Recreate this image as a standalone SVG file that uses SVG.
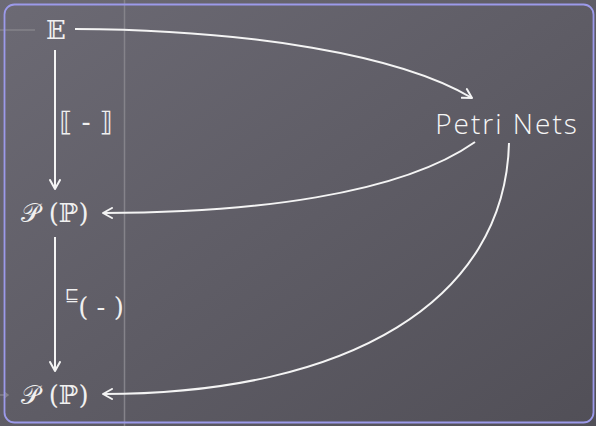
<svg xmlns="http://www.w3.org/2000/svg" width="596" height="426" viewBox="0 0 596 426">
<defs>
<linearGradient id="bg" x1="0" y1="0" x2="1" y2="1">
<stop offset="0" stop-color="#6c6a74"/>
<stop offset="1" stop-color="#514f57"/>
</linearGradient>
<marker id="ah" viewBox="0 0 12 12" refX="10" refY="6" markerWidth="12" markerHeight="12" markerUnits="userSpaceOnUse" orient="auto">
<path d="M1 1 L10 6 L1 11" fill="none" stroke="#f4f4f4" stroke-width="2" stroke-linecap="round" stroke-linejoin="round"/>
</marker>
<style>
.math{font-family:"DejaVu Serif","DejaVu Sans","Liberation Serif",serif;fill:#f0f0f0;}
.hand{font-family:"Open Sans","Noto Sans",sans-serif;font-weight:300;fill:#f6f6f6;}
.conn{fill:none;stroke:#f4f4f4;stroke-width:2;marker-end:url(#ah);}
.guide{stroke:#85838a;stroke-width:1.5;}
</style>
</defs>
<rect width="596" height="426" fill="url(#bg)"/>
<line class="guide" x1="124.5" y1="0" x2="124.5" y2="426"/>
<line class="guide" x1="0" y1="30" x2="35" y2="30" stroke="#7d7c74"/>
<path d="M0 395 H8 M4 392 L8 395 L4 398" fill="none" stroke="#85838a" stroke-width="1.5"/>
<rect x="4.5" y="4.5" width="589" height="418" rx="10" fill="none" stroke="#9c9aea" stroke-width="1.8"/>
<g id="connectors">
<path class="conn" d="M75 29 C 250 30, 400 55, 472 98"/>
<path class="conn" d="M55 50 V 189"/>
<path class="conn" d="M475 142 C 400 195, 250 213, 103 213"/>
<path class="conn" d="M55 237 V 371"/>
<path class="conn" d="M509 143 C 505 300, 350 394, 103 394"/>
</g>
<g id="E">
<text class="math" x="56" y="39" font-size="26" text-anchor="middle">𝔼</text>
</g>
<g id="PP1">
<text class="math" x="55" y="222" font-size="26" text-anchor="middle">𝒫 (ℙ)</text>
</g>
<g id="PP2">
<text class="math" x="55" y="404" font-size="26" text-anchor="middle">𝒫 (ℙ)</text>
</g>
<g id="petri">
<text class="hand" x="507" y="134" font-size="28" letter-spacing="2" text-anchor="middle">Petri Nets</text>
</g>
<g id="label1">
<text class="math" x="86" y="131" font-size="27" text-anchor="middle">⟦ - ⟧</text>
</g>
<g id="label2">
<text class="math" x="72" y="301" font-size="17" text-anchor="middle">⊑</text>
<text class="math" x="101" y="316" font-size="26" text-anchor="middle">( - )</text>
</g>
</svg>
